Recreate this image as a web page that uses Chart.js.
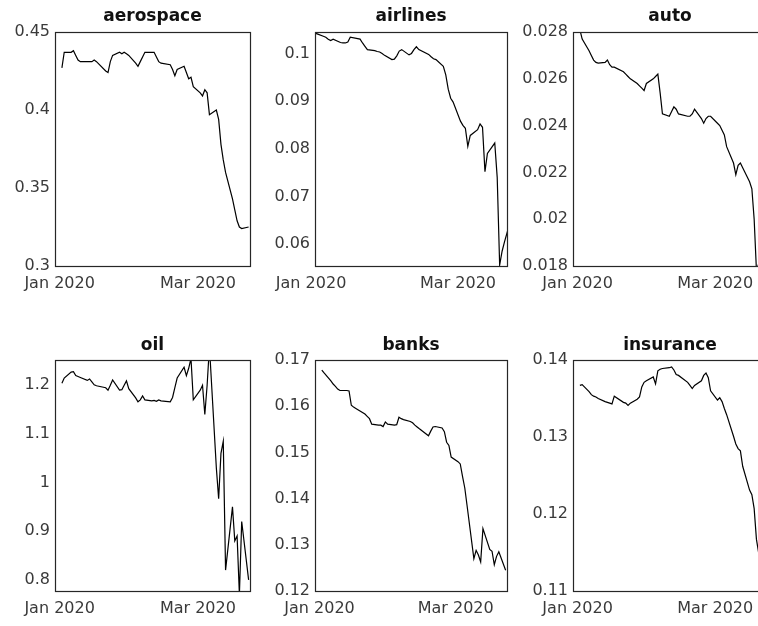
<!DOCTYPE html>
<html>
<head>
<meta charset="utf-8">
<script src="https://cdn.jsdelivr.net/npm/chart.js@4.4.1/dist/chart.umd.min.js"></script>
<style>
html, body { margin: 0; padding: 0; background: #fff; overflow: hidden; width: 758px; height: 626px; }
canvas { position: absolute; }
</style>
</head>
<body>
<canvas id="aerospaceChart"></canvas>
<canvas id="airlinesChart"></canvas>
<canvas id="autoChart"></canvas>
<canvas id="oilChart"></canvas>
<canvas id="banksChart"></canvas>
<canvas id="insuranceChart"></canvas>
<script>
// trading days, counted as days after Jan 1 2020 (Jan 2 = 1 ... Mar 23 = 82)
const tradingDays = [1, 2, 5, 6, 7, 8, 9, 12, 13, 14, 15, 16, 20, 21, 22, 23, 26, 27, 28, 29, 30,
    33, 34, 35, 36, 37, 40, 41, 42, 43, 44, 48, 49, 50, 51, 54, 55, 56, 57, 58,
    61, 62, 63, 64, 65, 68, 69, 70, 71, 72, 75, 76, 77, 78, 79, 82];

const xTickDays = [0, 60];
const xTickLabels = ['Jan 2020', 'Mar 2020'];

const aerospace = [0.427, 0.437, 0.437, 0.438, 0.435, 0.432, 0.431, 0.431, 0.431, 0.431, 0.432, 0.431,
    0.425, 0.424, 0.431, 0.435, 0.437, 0.436, 0.437, 0.436, 0.435, 0.430, 0.428, 0.431, 0.434, 0.437,
    0.437, 0.437, 0.434, 0.431, 0.430, 0.429, 0.426, 0.422, 0.426, 0.428, 0.424, 0.420, 0.421, 0.415,
    0.411, 0.409, 0.413, 0.411, 0.397, 0.400, 0.394, 0.378, 0.368, 0.360, 0.343, 0.336, 0.329, 0.325,
    0.324, 0.325];
const aerospaceTicks = [0.3, 0.35, 0.4, 0.45];

const airlines = [0.1052, 0.1042, 0.1036, 0.1034, 0.1030, 0.1027, 0.1030, 0.1023, 0.1022, 0.1022, 0.1024,
    0.1034, 0.1030, 0.1022, 0.1015, 0.1008, 0.1006, 0.1004, 0.1003, 0.1000, 0.0996, 0.0987, 0.0988,
    0.0995, 0.1005, 0.1008, 0.0997, 0.1000, 0.1008, 0.1014, 0.1008, 0.0998, 0.0993, 0.0989, 0.0987,
    0.0973, 0.0955, 0.0925, 0.0906, 0.0898, 0.0858, 0.0849, 0.0843, 0.0805, 0.0828, 0.0840, 0.0852,
    0.0845, 0.0752, 0.0790, 0.0812, 0.0740, 0.0556, 0.0585, 0.0605, 0.0660];
const airlinesTicks = [0.06, 0.07, 0.08, 0.09, 0.1];

const auto = [0.0281, 0.0277, 0.0272, 0.0270, 0.0268, 0.0267, 0.02667, 0.0267, 0.0268, 0.0266, 0.0265,
    0.0265, 0.0263, 0.0262, 0.0261, 0.0260, 0.0258, 0.0257, 0.0256, 0.0255, 0.0258, 0.0260, 0.0261,
    0.0262, 0.0254, 0.0245, 0.0244, 0.0246, 0.0248, 0.0247, 0.0245, 0.0244, 0.0244, 0.0245, 0.0247,
    0.0243, 0.0241, 0.0243, 0.0244, 0.0244, 0.0241, 0.0240, 0.0238, 0.0236, 0.0231, 0.0224, 0.0219,
    0.0223, 0.0224, 0.0222, 0.0216, 0.0213, 0.0200, 0.0178, 0.0181, 0.0170];
const autoTicks = [0.018, 0.02, 0.022, 0.024, 0.026, 0.028];

const oil = [1.204, 1.215, 1.227, 1.228, 1.220, 1.218, 1.216, 1.210, 1.213, 1.207, 1.201, 1.199,
    1.195, 1.190, 1.200, 1.211, 1.190, 1.191, 1.200, 1.209, 1.193, 1.174, 1.166, 1.170, 1.178, 1.170,
    1.168, 1.169, 1.167, 1.170, 1.168, 1.166, 1.175, 1.195, 1.215, 1.237, 1.220, 1.235, 1.255, 1.170,
    1.190, 1.200, 1.140, 1.200, 1.280, 1.030, 0.967, 1.060, 1.085, 0.820, 0.950, 0.880, 0.890, 0.770,
    0.920, 0.800];
const oilTicks = [0.8, 0.9, 1, 1.1, 1.2];

const banks = [0.1678, 0.1672, 0.1655, 0.1648, 0.1643, 0.1637, 0.1634, 0.1634, 0.1633, 0.1602, 0.1598,
    0.1595, 0.1583, 0.1578, 0.1573, 0.1561, 0.1559, 0.1559, 0.1556, 0.1566, 0.1561, 0.1559, 0.1560,
    0.1576, 0.1573, 0.1571, 0.1567, 0.1564, 0.1559, 0.1555, 0.1551, 0.1536, 0.1546, 0.1555, 0.1556,
    0.1553, 0.1545, 0.1522, 0.1515, 0.1490, 0.1480, 0.1475, 0.1448, 0.1423, 0.1385, 0.1270, 0.1288,
    0.1278, 0.1263, 0.1335, 0.1290, 0.1286, 0.1257, 0.1275, 0.1285, 0.1245];
const banksTicks = [0.12, 0.13, 0.14, 0.15, 0.16, 0.17];

const insurance = [0.1367, 0.1368, 0.1359, 0.1355, 0.1353, 0.1352, 0.1350, 0.1346, 0.1345, 0.1344, 0.1343,
    0.1353, 0.1345, 0.1344, 0.1341, 0.1344, 0.1349, 0.1352, 0.1365, 0.1371, 0.1373, 0.1378, 0.1369,
    0.1386, 0.1388, 0.1389, 0.1390, 0.1391, 0.1387, 0.1381, 0.1380, 0.1371, 0.1367, 0.1363, 0.1367,
    0.1373, 0.1380, 0.1383, 0.1377, 0.1360, 0.1348, 0.1351, 0.1346, 0.1337, 0.1329, 0.1301, 0.1291,
    0.1285, 0.1282, 0.1262, 0.1231, 0.1225, 0.1207, 0.1167, 0.1149, 0.1127];
const insuranceTicks = [0.11, 0.12, 0.13, 0.14];

const tickFont = { family: 'DejaVu Sans', size: 16, lineHeight: 1.2 };
const titleFont = { family: 'DejaVu Sans', size: 17, weight: 'bold', lineHeight: 1.2 };

// box around the axes, like matlab's "box on"
const boxPlugin = {
    id: 'box',
    afterDraw(chart) {
        const a = chart.chartArea;
        const ctx = chart.ctx;
        ctx.save();
        ctx.strokeStyle = '#262626';
        ctx.lineWidth = 1.2;
        ctx.strokeRect(Math.round(a.left) + 0.5, Math.round(a.top) + 0.5,
            Math.round(a.right - a.left), Math.round(a.bottom - a.top));
        ctx.restore();
    }
};

// canvas placement for the 2x3 grid
const rows = [
    { y: 0, h: 300, titleTop: 6.8, titleBottom: 4.8, xAxisH: 34 },
    { y: 320, h: 306, titleTop: 15.8, titleBottom: 3.8, xAxisH: 35 }
];
const cols = [
    { x: 0, w: 262, yAxisW: 55, padRight: 12 },
    { x: 262, w: 250, yAxisW: 53, padRight: 5 },
    { x: 512, w: 258, yAxisW: 61, padRight: 3 }
];

function makePanel(canvasId, title, values, yTicks, yMin, yMax, xMin, xMax, row, col) {
    const canvas = document.getElementById(canvasId);
    canvas.width = col.w;
    canvas.height = row.h;
    canvas.style.left = col.x + 'px';
    canvas.style.top = row.y + 'px';
    canvas.style.width = col.w + 'px';
    canvas.style.height = row.h + 'px';

    return new Chart(canvas, {
        type: 'line',
        data: {
            datasets: [{
                data: tradingDays.map((d, i) => ({ x: d, y: values[i] })),
                borderColor: '#000',
                borderWidth: 1.2,
                pointRadius: 0,
                tension: 0,
                fill: false
            }]
        },
        options: {
            responsive: false,
            animation: false,
            events: [],
            layout: { padding: { left: 0, right: col.padRight, top: 0, bottom: 0 } },
            plugins: {
                legend: { display: false },
                tooltip: { enabled: false },
                title: {
                    display: true,
                    text: title,
                    fullSize: false,
                    color: '#111',
                    font: titleFont,
                    padding: { top: row.titleTop, bottom: row.titleBottom }
                }
            },
            scales: {
                x: {
                    type: 'linear',
                    min: xMin,
                    max: xMax,
                    bounds: 'data',
                    grid: { display: false, drawTicks: false },
                    border: { display: false },
                    afterBuildTicks: s => { s.ticks = xTickDays.map(v => ({ value: v })); },
                    afterFit: s => { s.height = row.xAxisH; },
                    ticks: {
                        autoSkip: false,
                        maxRotation: 0,
                        padding: 8,
                        color: '#3a3a3a',
                        font: tickFont,
                        callback: (v, i) => xTickLabels[i]
                    }
                },
                y: {
                    type: 'linear',
                    min: yMin,
                    max: yMax,
                    bounds: 'data',
                    grid: { display: false, drawTicks: false },
                    border: { display: false },
                    afterBuildTicks: s => { s.ticks = yTicks.map(v => ({ value: v })); },
                    afterFit: s => { s.width = col.yAxisW; },
                    ticks: {
                        autoSkip: false,
                        padding: 5,
                        color: '#3a3a3a',
                        font: tickFont,
                        callback: (v, i) => String(yTicks[i])
                    }
                }
            }
        },
        plugins: [boxPlugin]
    });
}

makePanel('aerospaceChart', 'aerospace', aerospace, aerospaceTicks, 0.3, 0.45, -2, 82.6, rows[0], cols[0]);
makePanel('airlinesChart', 'airlines', airlines, airlinesTicks, 0.0554, 0.1045, 1.6, 80, rows[0], cols[1]);
makePanel('autoChart', 'auto', auto, autoTicks, 0.018, 0.028, -2, 82.6, rows[0], cols[2]);
makePanel('oilChart', 'oil', oil, oilTicks, 0.777, 1.252, -2, 82.6, rows[1], cols[0]);
makePanel('banksChart', 'banks', banks, banksTicks, 0.12, 0.17, -2, 82.6, rows[1], cols[1]);
makePanel('insuranceChart', 'insurance', insurance, insuranceTicks, 0.11, 0.14, -2, 82.6, rows[1], cols[2]);
</script>
</body>
</html>
